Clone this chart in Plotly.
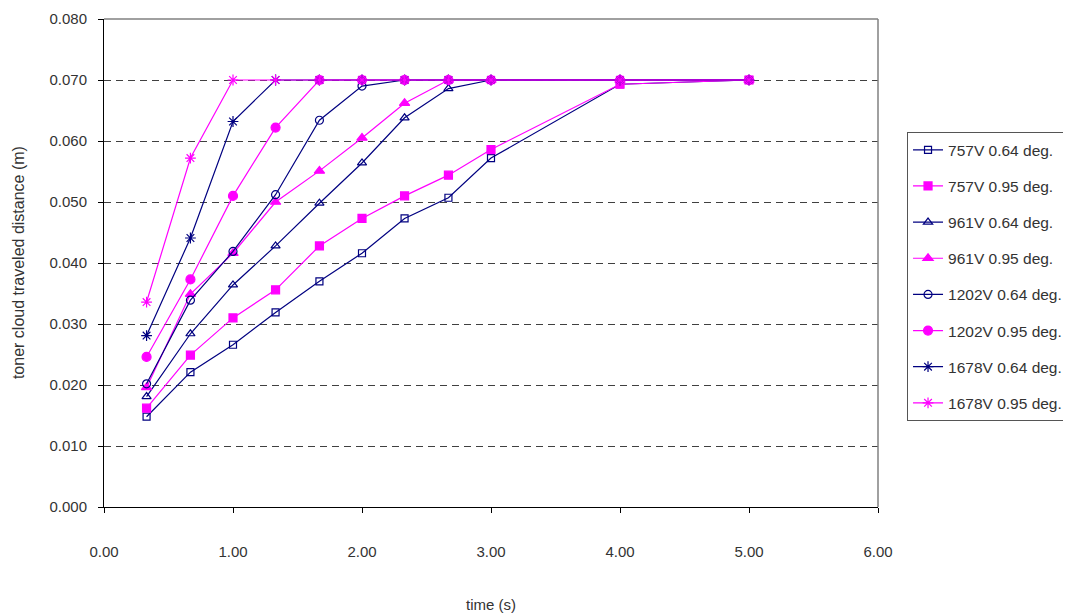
import plotly.graph_objects as go

time_s = [0.33, 0.67, 1.00, 1.33, 1.67, 2.00, 2.33, 2.67, 3.00, 4.00, 5.00]

d_757_064 = [0.0148, 0.0221, 0.0266, 0.0319, 0.0370, 0.0416, 0.0473, 0.0507, 0.0572, 0.0693, 0.0700]
d_757_095 = [0.0162, 0.0249, 0.0310, 0.0356, 0.0428, 0.0473, 0.0510, 0.0544, 0.0586, 0.0693, 0.0700]
d_961_064 = [0.0181, 0.0284, 0.0364, 0.0428, 0.0498, 0.0564, 0.0638, 0.0686, 0.0700, 0.0700, 0.0700]
d_961_095 = [0.0196, 0.0349, 0.0416, 0.0500, 0.0551, 0.0605, 0.0662, 0.0700, 0.0700, 0.0700, 0.0700]
d_1202_064 = [0.0202, 0.0339, 0.0419, 0.0512, 0.0634, 0.0690, 0.0700, 0.0700, 0.0700, 0.0700, 0.0700]
d_1202_095 = [0.0246, 0.0373, 0.0510, 0.0622, 0.0700, 0.0700, 0.0700, 0.0700, 0.0700, 0.0700, 0.0700]
d_1678_064 = [0.0281, 0.0441, 0.0632, 0.0700, 0.0700, 0.0700, 0.0700, 0.0700, 0.0700, 0.0700, 0.0700]
d_1678_095 = [0.0336, 0.0572, 0.0700, 0.0700, 0.0700, 0.0700, 0.0700, 0.0700, 0.0700, 0.0700, 0.0700]

series_names = ["757V 0.64 deg.", "757V 0.95 deg.", "961V 0.64 deg.", "961V 0.95 deg.",
                "1202V 0.64 deg.", "1202V 0.95 deg.", "1678V 0.64 deg.", "1678V 0.95 deg."]
series_values = [d_757_064, d_757_095, d_961_064, d_961_095,
                 d_1202_064, d_1202_095, d_1678_064, d_1678_095]

NAVY = "#000080"
MAGENTA = "#FF00FF"
styles = [
    (NAVY, "square-open", 7),
    (MAGENTA, "square", 8),
    (NAVY, "triangle-up-open", 8),
    (MAGENTA, "triangle-up", 9),
    (NAVY, "circle-open", 8),
    (MAGENTA, "circle", 9),
    (NAVY, "asterisk-open", 9),
    (MAGENTA, "asterisk-open", 9),
]

fig = go.Figure()
for i, (name, vals) in enumerate(zip(series_names, series_values)):
    color, sym, size = styles[i]
    fig.add_trace(go.Scatter(
        x=time_s, y=vals, name=name, mode="lines+markers",
        legendgroup=f"g{i}",
        line=dict(color=color, width=1.2),
        marker=dict(symbol=sym, size=size, color=color,
                    line=dict(color=color, width=1.2)),
    ))

FONT = "Liberation Sans, Arial, sans-serif"
TXT = "#333333"

fig.update_layout(
    width=1071, height=614,
    margin=dict(l=96, r=201, t=11, b=115, autoexpand=False),
    paper_bgcolor="white", plot_bgcolor="white",
    font=dict(family=FONT, size=15, color=TXT),
    showlegend=True,
    legend=dict(
        x=1.0375, y=0.768, xanchor="left", yanchor="top",
        bordercolor="#555555", borderwidth=1,
        font=dict(family=FONT, size=15.5, color=TXT),
        tracegroupgap=13, bgcolor="white",
    ),
    xaxis=dict(
        range=[0, 6], tickvals=[0, 1, 2, 3, 4, 5, 6], tickformat=".2f",
        showgrid=False, zeroline=False,
        showline=True, linecolor="black", linewidth=1,
        ticks="outside", ticklen=5, tickcolor="black",
        ticklabelstandoff=26,
        tickfont=dict(family=FONT, size=15, color=TXT),
    ),
    yaxis=dict(
        range=[0, 0.08], tickvals=[0, 0.01, 0.02, 0.03, 0.04, 0.05, 0.06, 0.07, 0.08],
        tickformat=".3f",
        showgrid=True, gridcolor="#404040", gridwidth=1, griddash="7px,5px",
        zeroline=False,
        showline=True, linecolor="black", linewidth=1,
        ticks="outside", ticklen=5, tickcolor="black",
        ticklabelstandoff=8,
        tickfont=dict(family=FONT, size=15, color=TXT),
    ),
    shapes=[
        dict(type="line", xref="paper", yref="paper", x0=0, x1=1, y0=1, y1=1,
             line=dict(color="#808080", width=1.5), layer="above"),
        dict(type="line", xref="paper", yref="paper", x0=1, x1=1, y0=0, y1=1,
             line=dict(color="#808080", width=1.5), layer="above"),
    ],
    annotations=[
        dict(text="time (s)", xref="paper", yref="paper", x=0.5, y=-0.2,
             xanchor="center", yanchor="middle", showarrow=False,
             font=dict(family=FONT, size=15, color=TXT)),
        dict(text="toner cloud traveled distance (m)", xref="paper", yref="paper",
             x=-0.111, y=0.5, xanchor="center", yanchor="middle", showarrow=False,
             textangle=-90, font=dict(family=FONT, size=16, color=TXT)),
    ],
)

fig.write_html("out.html")
